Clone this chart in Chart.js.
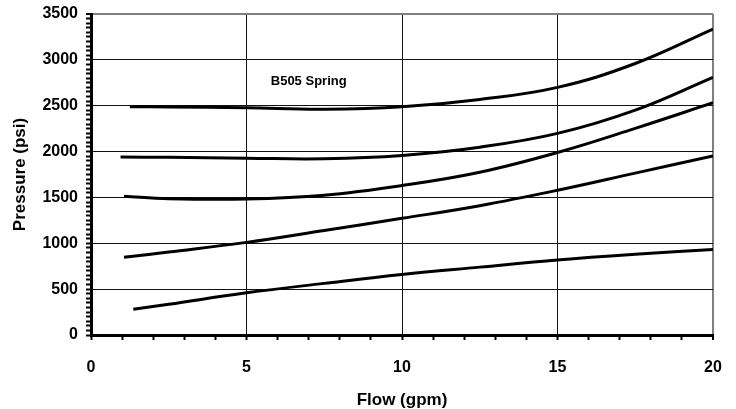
<!DOCTYPE html>
<html>
<head>
<meta charset="utf-8">
<script src="https://cdn.jsdelivr.net/npm/chart.js@4"></script>
<style>
  html, body { margin: 0; padding: 0; background: #fff; }
  #wrap { width: 736px; height: 409px; }
</style>
</head>
<body>
<div id="wrap"><canvas id="springChart" width="736" height="409"></canvas></div>
<script>
// flow (gpm) / pressure (psi), one pair per curve
const flow1 = [1.25, 2.5, 5, 7.5, 10, 12.5, 15, 17.5, 20];
const psi1  = [2490, 2487, 2477, 2462, 2488, 2568, 2700, 2960, 3335];

const flow2 = [0.95, 2.5, 5, 7.5, 10, 12.5, 15, 17.5, 20];
const psi2  = [1940, 1937, 1928, 1922, 1958, 2048, 2198, 2452, 2810];

const flow3 = [1.06, 2.5, 5, 7.5, 10, 12.5, 15, 17.5, 20];
const psi3  = [1512, 1486, 1483, 1525, 1630, 1775, 1990, 2253, 2532];

const flow4 = [1.06, 2.5, 5, 7.5, 10, 12.5, 15, 17.5, 20];
const psi4  = [847, 905, 1010, 1140, 1272, 1410, 1578, 1765, 1952];

const flow5 = [1.36, 2.5, 5, 7.5, 10, 12.5, 15, 17.5, 20];
const psi5  = [280, 335, 460, 563, 660, 740, 818, 880, 932];

const xTickLabels = [0, 5, 10, 15, 20];
const yTickLabels = [0, 500, 1000, 1500, 2000, 2500, 3000, 3500];

const noteText = 'B505 Spring';
const notePos = { x: 7, y: 2770 };

const FONT = "'Liberation Sans', Arial, sans-serif";

function pts(xs, ys) {
    return xs.map((x, i) => ({ x: x, y: ys[i] }));
}

function curve(xs, ys) {
    return {
        data: pts(xs, ys),
        borderColor: '#000',
        borderWidth: 3,
        pointRadius: 0,
        showLine: true,
        fill: false,
        tension: 0.4
    };
}

// keep the plot box where the layout padding puts it
function noScalePadding(scale) {
    scale.paddingTop = 0;
    scale.paddingBottom = 0;
    scale.paddingLeft = 0;
    scale.paddingRight = 0;
}

// text label inside the plot, placed through the scales
const notePlugin = {
    id: 'note',
    afterDatasetsDraw(chart) {
        const ctx = chart.ctx;
        const x = chart.scales.x.getPixelForValue(notePos.x);
        const y = chart.scales.y.getPixelForValue(notePos.y);
        ctx.save();
        ctx.font = 'bold 13px ' + FONT;
        ctx.fillStyle = '#000';
        ctx.textAlign = 'center';
        ctx.textBaseline = 'middle';
        ctx.fillText(noteText, x, y);
        ctx.restore();
    }
};

const ctx = document.getElementById('springChart').getContext('2d');

new Chart(ctx, {
    type: 'scatter',
    data: {
        datasets: [
            curve(flow1, psi1),
            curve(flow2, psi2),
            curve(flow3, psi3),
            curve(flow4, psi4),
            curve(flow5, psi5)
        ]
    },
    options: {
        responsive: false,
        animation: false,
        layout: {
            padding: { top: 14, right: 23, left: 0, bottom: 0 }
        },
        scales: {
            x: {
                type: 'linear',
                min: 0,
                max: 20,
                afterFit: function(scale) {
                    scale.height = 74;
                    noScalePadding(scale);
                },
                ticks: {
                    stepSize: 1,
                    autoSkip: false,
                    maxRotation: 0,
                    padding: 18,
                    color: '#000',
                    font: { family: FONT, size: 16, weight: 'bold' },
                    callback: function(v) {
                        return xTickLabels.includes(v) ? String(v) : '';
                    }
                },
                grid: {
                    color: function(c) {
                        const v = c.tick.value;
                        if (v === 20) return '#808080';
                        return xTickLabels.includes(v) ? '#111' : 'rgba(0,0,0,0)';
                    },
                    lineWidth: function(c) {
                        return c.tick.value === 20 ? 2 : 1;
                    },
                    tickColor: '#000',
                    tickWidth: 2,
                    tickLength: 5
                },
                border: { color: '#000', width: 3 },
                title: {
                    display: true,
                    text: 'Flow (gpm)',
                    color: '#000',
                    font: { family: FONT, size: 17, weight: 'bold', lineHeight: 1 },
                    padding: { top: 0, bottom: 0 }
                }
            },
            y: {
                type: 'linear',
                min: 0,
                max: 3500,
                afterFit: function(scale) {
                    scale.width = 91;
                    noScalePadding(scale);
                },
                ticks: {
                    stepSize: 50,
                    maxTicksLimit: 1000,
                    autoSkip: false,
                    padding: 8,
                    color: '#000',
                    font: { family: FONT, size: 16, weight: 'bold' },
                    callback: function(v) {
                        return yTickLabels.includes(v) ? String(v) : '';
                    }
                },
                grid: {
                    color: function(c) {
                        const v = c.tick.value;
                        if (v === 3500) return '#808080';
                        return yTickLabels.includes(v) ? '#111' : 'rgba(0,0,0,0)';
                    },
                    lineWidth: function(c) {
                        return c.tick.value === 3500 ? 2 : 1;
                    },
                    tickColor: '#000',
                    tickWidth: 2,
                    tickLength: 5
                },
                border: { color: '#000', width: 3 },
                title: {
                    display: true,
                    text: 'Pressure (psi)',
                    color: '#000',
                    font: { family: FONT, size: 17, weight: 'bold', lineHeight: 1 },
                    padding: { top: 12, bottom: 0 }
                }
            }
        },
        plugins: {
            legend: { display: false },
            tooltip: { enabled: false }
        }
    },
    plugins: [notePlugin]
});
</script>
</body>
</html>
